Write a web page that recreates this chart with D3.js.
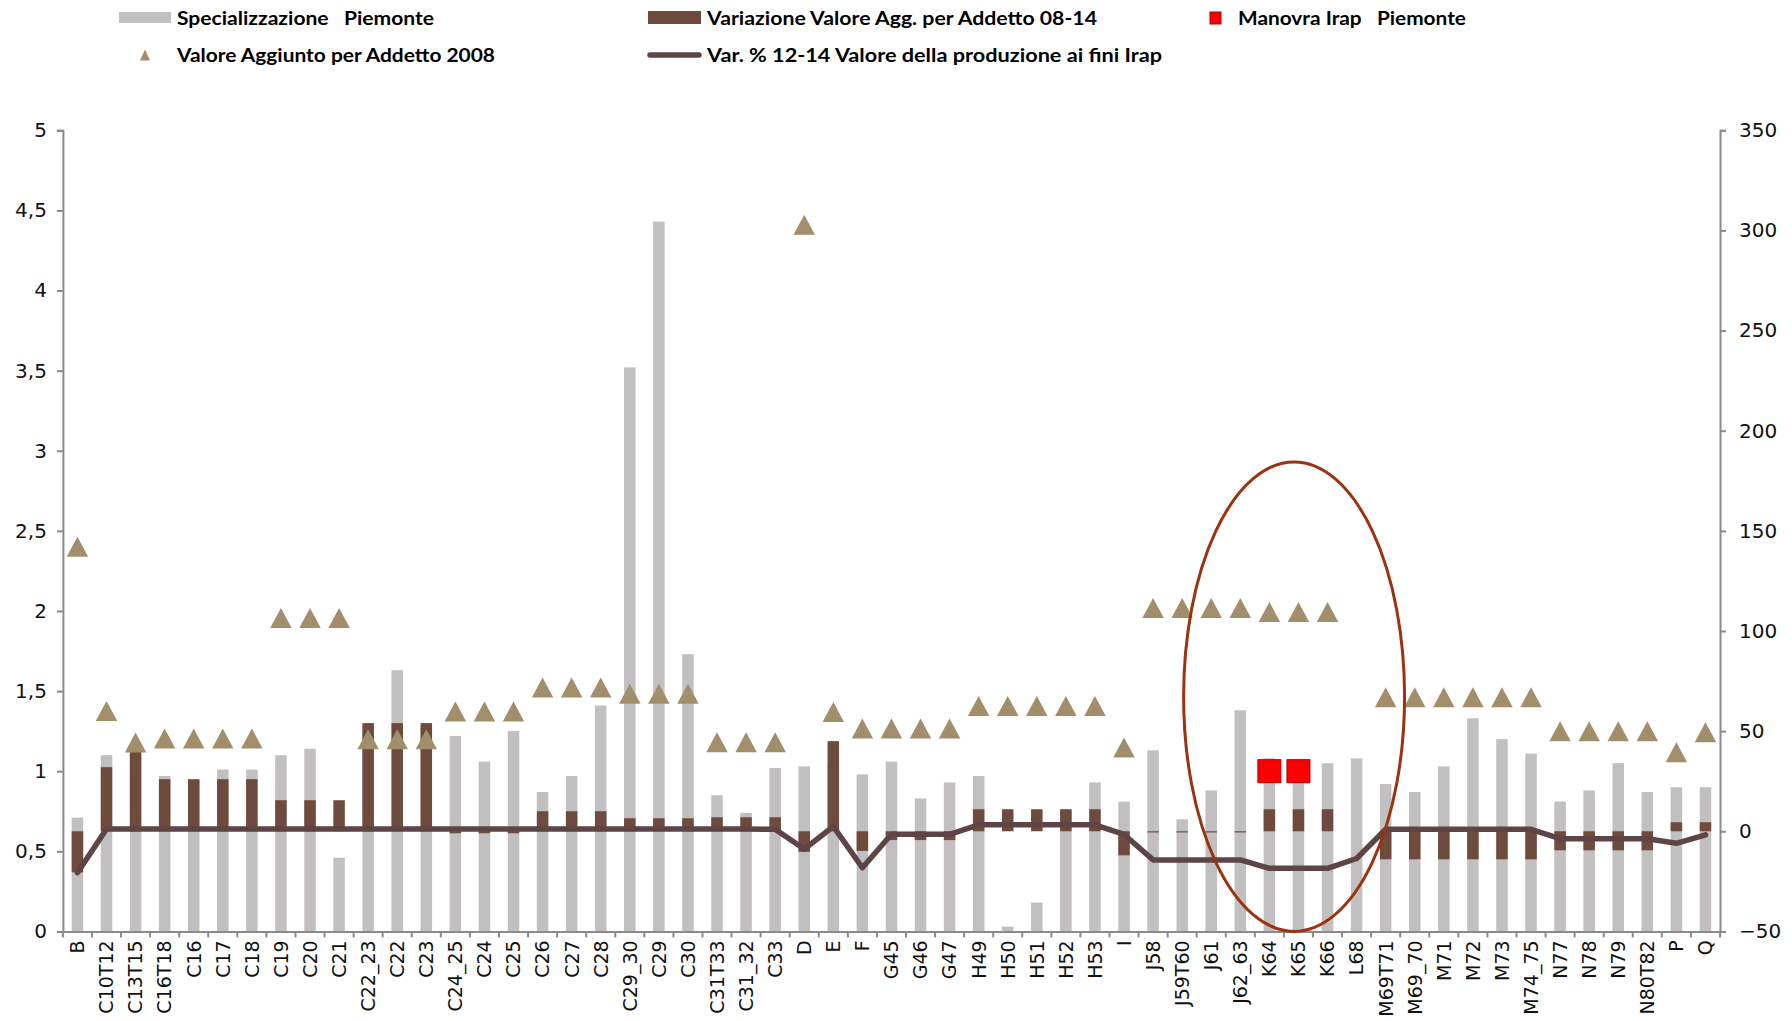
<!DOCTYPE html>
<html>
<head>
<meta charset="utf-8">
<script src="https://cdn.jsdelivr.net/npm/d3@7"></script>
<style>
  body { margin: 0; background: #ffffff; }
  svg { display: block; }
  .legend text { white-space: pre; }
</style>
</head>
<body>
<svg id="chart" width="1792" height="1021"></svg>
<script>
// ---------------- DATA ----------------
const categories = ["B","C10T12","C13T15","C16T18","C16","C17","C18","C19","C20","C21",
  "C22_23","C22","C23","C24_25","C24","C25","C26","C27","C28","C29_30","C29","C30",
  "C31T33","C31_32","C33","D","E","F","G45","G46","G47","H49","H50","H51","H52","H53",
  "I","J58","J59T60","J61","J62_63","K64","K65","K66","L68","M69T71","M69_70","M71",
  "M72","M73","M74_75","N77","N78","N79","N80T82","P","Q"];

// Specializzazione Piemonte (left axis)
const specializzazione = [0.71,1.10,1.10,0.97,0.94,1.01,1.01,1.10,1.14,0.46,
  1.28,1.63,1.27,1.22,1.06,1.25,0.87,0.97,1.41,3.52,4.43,1.73,
  0.85,0.74,1.02,1.03,1.05,0.98,1.06,0.83,0.93,0.97,0.03,0.18,0.76,0.93,
  0.81,1.13,0.70,0.88,1.38,1.08,1.00,1.05,1.08,0.92,0.87,1.03,
  1.33,1.20,1.11,0.81,0.88,1.05,0.87,0.90,0.90];

// Variazione Valore Agg. per Addetto 08-14 (right axis)
const variazioneVA = [-20.5,32,40,26,26,26,26,15.5,15.5,15.5,
  54,54,54,-1,-1,-1,10,10,10,6.5,6.5,6.5,
  7,7,7,-10.3,45,-9.8,-4.4,-4.4,-4.4,11,11,11,11,11,
  -12,-0.6,-0.6,-0.6,-0.6,11,11,11,0,-14,-14,-14,
  -14,-14,-14,-9.5,-9.5,-9.5,-9.5,4.5,4.5];

// Valore Aggiunto per Addetto 2008 (right axis)
const valoreAggiunto2008 = [142,60,44.3,46.3,46.3,46.3,46.3,106.5,106.5,106.5,
  46,46,46,59.8,59.8,59.8,71.8,71.8,71.8,68.6,68.6,68.6,
  44.5,44.5,44.5,302.8,59.5,51.3,51.3,51.3,51.3,62.6,62.6,62.6,62.6,62.6,
  41.8,111.5,111.5,111.5,111.5,109.5,109.5,109.5,null,66.9,66.9,66.9,
  66.9,66.9,66.9,49.9,49.9,49.9,49.9,39.4,49.4];

// Var. % 12-14 Valore della produzione ai fini Irap (right axis)
const varProduzione = [-20.7,1.1,1.1,1.1,1.1,1.1,1.1,1.1,1.1,1.1,
  1.1,1.1,1.1,1.1,1.1,1.1,1.1,1.1,1.1,1.1,1.1,1.1,
  1.1,1.1,1.0,-8.9,2.4,-18.2,-1.5,-1.5,-1.5,3.2,3.2,3.2,3.2,3.2,
  -1.6,-14.3,-14.3,-14.3,-14.3,-18.5,-18.5,-18.5,-13.6,1.0,1.0,1.0,
  1.0,1.0,1.0,-3.7,-3.7,-3.7,-3.7,-6.0,-1.8];

// Manovra Irap Piemonte (left axis)
const manovraCategories = ["K64","K65"];
const manovraIrap = [1.0, 1.0];

// Axis ticks
const leftTicks = [0,0.5,1,1.5,2,2.5,3,3.5,4,4.5,5];
const leftTickLabels = ["0","0,5","1","1,5","2","2,5","3","3,5","4","4,5","5"];
const rightTicks = [-50,0,50,100,150,200,250,300,350];

// Annotation ellipse (around K64-K66), in data units
const ellipseCategory = "K65";
const ellipseLeftSpan = [0, 2.93];
const ellipseHalfWidthBands = 3.8;
const ellipseShiftBands = -0.15;

// Legend entries
const legendLabels = {
  spec: "Specializzazione   Piemonte",
  varVA: "Variazione Valore Agg. per Addetto 08-14",
  manovra: "Manovra Irap   Piemonte",
  va2008: "Valore Aggiunto per Addetto 2008",
  varProd: "Var. % 12-14 Valore della produzione ai fini Irap"
};

// ---------------- STYLE ----------------
const COL_GRAY = "#c1bfc0";
const COL_BROWN = "#6f4b3e";
const COL_LINE = "#5e4444";
const COL_TRI = "#a38e6c";
const COL_RED = "#ff0000";
const COL_AXIS = "#8a8a8a";
const COL_ELL = "#9b3312";

const svg = d3.select("#chart");
const plot = { left: 62.9, right: 1720, top: 130.3, bottom: 931.4 };

const x = d3.scaleBand().domain(categories).range([plot.left, plot.right]).padding(0);
const bw = x.bandwidth();
const cx = c => x(c) + bw / 2;
const yL = d3.scaleLinear().domain([0, 5]).range([plot.bottom, plot.top]);
const yR = d3.scaleLinear().domain([-50, 350]).range([plot.bottom, plot.top]);

const barW = 11.5;
const tickFont = "'DejaVu Sans', sans-serif";

// gray bars
svg.append("g").selectAll("rect").data(categories).join("rect")
  .attr("x", (c) => cx(c) - barW / 2)
  .attr("width", barW)
  .attr("y", (c, i) => yL(specializzazione[i]))
  .attr("height", (c, i) => yL(0) - yL(specializzazione[i]))
  .attr("fill", COL_GRAY);

// brown bars
svg.append("g").selectAll("rect").data(categories).join("rect")
  .attr("x", (c) => cx(c) - barW / 2)
  .attr("width", barW)
  .attr("y", (c, i) => yR(Math.max(0, variazioneVA[i])))
  .attr("height", (c, i) => Math.abs(yR(0) - yR(variazioneVA[i])))
  .attr("fill", COL_BROWN);

// line
const line = d3.line().x((d) => cx(d.c)).y((d) => yR(d.v));
svg.append("path")
  .datum(categories.map((c, i) => ({ c, v: varProduzione[i] })))
  .attr("d", line)
  .attr("fill", "none")
  .attr("stroke", COL_LINE)
  .attr("stroke-width", 5.5)
  .attr("stroke-linejoin", "round")
  .attr("stroke-linecap", "round");

// triangles
const triW = 21.5, triH = 20;
const triPath = (w, h) => `M0,${-h / 2}L${w / 2},${h / 2}L${-w / 2},${h / 2}Z`;
svg.append("g").selectAll("path")
  .data(categories.map((c, i) => ({ c, v: valoreAggiunto2008[i] })).filter(d => d.v != null))
  .join("path")
  .attr("d", triPath(triW, triH))
  .attr("transform", (d) => `translate(${cx(d.c)},${yR(d.v)})`)
  .attr("fill", COL_TRI);

// red squares
const sq = 23;
svg.append("g").selectAll("rect").data(manovraCategories).join("rect")
  .attr("x", (c) => cx(c) - sq / 2)
  .attr("y", (c, i) => yL(manovraIrap[i]) - sq / 2)
  .attr("width", sq).attr("height", sq)
  .attr("fill", COL_RED)
  .attr("stroke", "#b00000").attr("stroke-width", 1);

// axes
const axL = svg.append("g").attr("transform", `translate(${plot.left},0)`)
  .call(d3.axisLeft(yL).tickValues(leftTicks).tickSize(6).tickPadding(10)
    .tickFormat((d, i) => leftTickLabels[i]));
const axR = svg.append("g").attr("transform", `translate(${plot.right},0)`)
  .call(d3.axisRight(yR).tickValues(rightTicks).tickSize(6).tickPadding(13));
const axB = svg.append("g").attr("transform", `translate(0,${plot.bottom})`)
  .call(d3.axisBottom(x).tickSize(0).tickPadding(0));

[axL, axR, axB].forEach(g => {
  g.select(".domain").attr("stroke", COL_AXIS).attr("stroke-width", 2);
  g.selectAll(".tick line").attr("stroke", COL_AXIS).attr("stroke-width", 2);
  g.selectAll("text").attr("fill", "#111").style("font-family", tickFont);
});
axL.selectAll("text").style("font-size", "20px");
axR.selectAll("text").style("font-size", "20px");
axB.selectAll(".tick text")
  .style("font-size", "19px")
  .attr("transform", "rotate(-90)")
  .attr("text-anchor", "end")
  .attr("x", -9).attr("y", 0).attr("dy", "0.36em");

// bottom boundary ticks
svg.append("g").selectAll("line").data(categories.concat([null])).join("line")
  .attr("x1", (c) => c == null ? plot.right : x(c))
  .attr("x2", (c) => c == null ? plot.right : x(c))
  .attr("y1", plot.bottom).attr("y2", plot.bottom + 6)
  .attr("stroke", COL_AXIS).attr("stroke-width", 2);

// ellipse annotation
svg.append("ellipse")
  .attr("cx", cx(ellipseCategory) + ellipseShiftBands * bw)
  .attr("cy", (yL(ellipseLeftSpan[0]) + yL(ellipseLeftSpan[1])) / 2)
  .attr("rx", ellipseHalfWidthBands * bw)
  .attr("ry", (yL(ellipseLeftSpan[0]) - yL(ellipseLeftSpan[1])) / 2)
  .attr("fill", "none")
  .attr("stroke", COL_ELL)
  .attr("stroke-width", 3);

// legend
const lg = svg.append("g").attr("class", "legend");
const legFont = "Lato, 'Noto Sans', sans-serif";
function legText(xp, yp, txt, len) {
  lg.append("text").attr("x", xp).attr("y", yp).text(txt)
    .style("font-family", legFont).style("font-weight", "700").style("font-size", "19px")
    .attr("fill", "#000")
    .attr("textLength", len).attr("lengthAdjust", "spacingAndGlyphs");
}
// row 1
lg.append("rect").attr("x", 119).attr("y", 12).attr("width", 52).attr("height", 11).attr("fill", COL_GRAY);
legText(177, 25, legendLabels.spec, 257);
lg.append("rect").attr("x", 648).attr("y", 11).attr("width", 53).attr("height", 13).attr("fill", COL_BROWN);
legText(707, 25, legendLabels.varVA, 390);
lg.append("rect").attr("x", 1210).attr("y", 12).attr("width", 11).attr("height", 12)
  .attr("fill", COL_RED).attr("stroke", "#b00000").attr("stroke-width", 1);
legText(1238, 25, legendLabels.manovra, 228);
// row 2
lg.append("path").attr("d", triPath(10, 11)).attr("transform", "translate(145,55)").attr("fill", COL_TRI);
legText(177, 62, legendLabels.va2008, 318);
lg.append("line").attr("x1", 650).attr("x2", 699).attr("y1", 55).attr("y2", 55)
  .attr("stroke", COL_LINE).attr("stroke-width", 5.5).attr("stroke-linecap", "round");
legText(707, 62, legendLabels.varProd, 455);
</script>
</body>
</html>
